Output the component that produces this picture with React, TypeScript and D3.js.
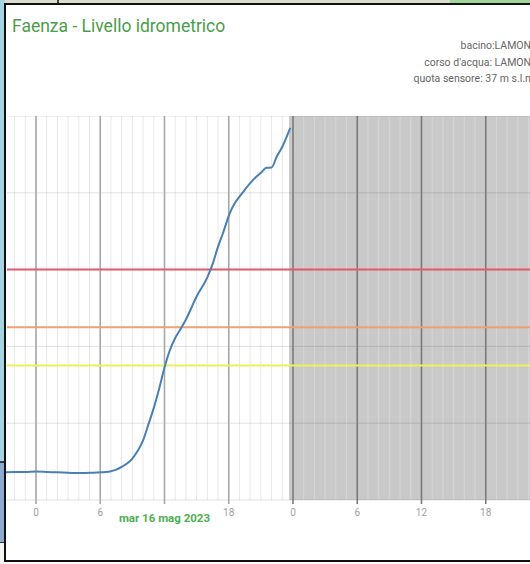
import React from "react";
import * as d3 from "d3";

// ---- data ----
const times: string[] = [
  "2023-05-15T21:00", "2023-05-15T22:00", "2023-05-15T23:00", "2023-05-16T00:00",
  "2023-05-16T01:00", "2023-05-16T02:00", "2023-05-16T03:00", "2023-05-16T04:00",
  "2023-05-16T05:00", "2023-05-16T06:00", "2023-05-16T06:30", "2023-05-16T07:00",
  "2023-05-16T07:30", "2023-05-16T08:00", "2023-05-16T08:30", "2023-05-16T09:00",
  "2023-05-16T09:30", "2023-05-16T10:00", "2023-05-16T10:30", "2023-05-16T11:00",
  "2023-05-16T11:30", "2023-05-16T12:00", "2023-05-16T12:30", "2023-05-16T13:00",
  "2023-05-16T13:30", "2023-05-16T14:00", "2023-05-16T15:00", "2023-05-16T16:00",
  "2023-05-16T16:30", "2023-05-16T17:00", "2023-05-16T17:30", "2023-05-16T18:00",
  "2023-05-16T18:30", "2023-05-16T19:00", "2023-05-16T19:30", "2023-05-16T20:00",
  "2023-05-16T20:30", "2023-05-16T21:00", "2023-05-16T21:30", "2023-05-16T22:00",
  "2023-05-16T22:30", "2023-05-16T23:00", "2023-05-16T23:30", "2023-05-16T23:45",
];
const levels: number[] = [
  0.72, 0.73, 0.73, 0.74,
  0.73, 0.72, 0.71, 0.70,
  0.71, 0.72, 0.73, 0.75,
  0.79, 0.86, 0.95, 1.08,
  1.28, 1.55, 1.97, 2.40,
  2.90, 3.45, 3.90, 4.22,
  4.45, 4.70, 5.30, 5.80,
  6.15, 6.60, 6.98, 7.40,
  7.70, 7.90, 8.08, 8.25,
  8.40, 8.52, 8.65, 8.66,
  8.95, 9.20, 9.52, 9.69,
];
const thresholdValues: number[] = [6.0, 4.5, 3.5];
const yTicks: number[] = [0, 2, 4, 6, 8, 10];
const xDomain: string[] = ["2023-05-15T21:17:30", "2023-05-17T22:08:00"];
const nowTime = "2023-05-16T23:38";
const title = "Faenza - Livello idrometrico";
const infoLines: string[] = ["bacino:LAMONE", "corso d'acqua: LAMONE", "quota sensore: 37 m s.l.m."];
const dateLabel = "mar 16 mag 2023";

// ---- styles ----
const thresholdColors = ["#e25a6a", "#f0a070", "#eeee5e"];
const FONT = "Roboto, 'Noto Sans', sans-serif";

export default function App() {
  const W = 530, H = 564;
  const left = 7, right = 530, top = 116, bottom = 500;
  const parse = (s: string) => new Date(s);
  const x = d3.scaleTime().domain(xDomain.map(parse)).range([left, right]);
  const y = d3.scaleLinear().domain([0, 10]).range([bottom, top]);

  const data = times.map((t, i) => ({ t: parse(t), v: levels[i] }));
  const line = d3
    .line<{ t: Date; v: number }>()
    .x((d) => x(d.t))
    .y((d) => y(d.v))
    .curve(d3.curveMonotoneX);

  const majors = x.ticks(d3.timeHour.every(6) as any);
  const minors = x.ticks(d3.timeHour.every(1) as any);
  const nowX = x(parse(nowTime));

  return (
    <svg
      width={W}
      height={H}
      style={{ position: "absolute", left: 0, top: 0, fontFamily: FONT }}
    >
      {/* background map fragments */}
      <rect x={0} y={0} width={W} height={H} fill="#ffffff" />
      <rect x={0} y={0} width={W} height={5} fill="#d9ddd0" />
      <rect x={450} y={0} width={80} height={4} fill="#9fd49a" />
      <rect x={0} y={0} width={5} height={462} fill="#a8d4e2" />
      <rect x={0} y={462} width={5} height={81} fill="#8ea8cf" />
      <line x1={0} x2={5} y1={462} y2={462} stroke="#111" strokeWidth={1.5} />
      <line x1={0} x2={5} y1={543} y2={543} stroke="#111" strokeWidth={1.5} />
      <rect x={0} y={543} width={5} height={21} fill="#f4f4f0" />
      <line x1={58} x2={58} y1={0} y2={4} stroke="#111" strokeWidth={1.5} />

      {/* panel */}
      <rect x={5} y={4} width={540} height={557} fill="#fff" stroke="#111" strokeWidth={2} />

      <text x={12} y={32} fill="#4a9e4a" fontSize={17.5} fontWeight={400}>
        {title}
      </text>
      {infoLines.map((s, i) => (
        <text key={s} x={537} y={49 + i * 16.5} fill="#666" fontSize={10.5} textAnchor="end">
          {s}
        </text>
      ))}

      <g>
        <clipPath id="plotclip">
          <rect x={6} y={top} width={W} height={bottom - top + 10} />
        </clipPath>
        <g clipPath="url(#plotclip)">
          {/* future shading */}
          <rect x={nowX} y={top} width={right - nowX + 20} height={bottom - top} fill="#c9c9c9" />
          {/* minor vertical grid */}
          {minors.map((d, i) => (
            <line
              key={"m" + i}
              x1={x(d)}
              x2={x(d)}
              y1={top}
              y2={bottom}
              stroke={x(d) > nowX ? "#d6d6d6" : "#e8e8e8"}
              strokeWidth={1}
            />
          ))}
          {/* horizontal grid */}
          {yTicks.map((v) => (
            <line
              key={"h" + v}
              x1={left}
              x2={right + 10}
              y1={y(v)}
              y2={y(v)}
              stroke="rgba(0,0,0,0.12)"
              strokeWidth={1}
            />
          ))}
          {/* major vertical grid */}
          {majors.map((d, i) => (
            <line
              key={"M" + i}
              x1={x(d)}
              x2={x(d)}
              y1={top}
              y2={bottom + 4}
              stroke={x(d) > nowX ? "#7a7a7a" : "#a8a8a8"}
              strokeWidth={1.6}
            />
          ))}
          {/* thresholds */}
          {thresholdValues.map((v, i) => (
            <line
              key={"t" + v}
              x1={left}
              x2={right + 10}
              y1={y(v)}
              y2={y(v)}
              stroke={thresholdColors[i]}
              strokeWidth={2}
            />
          ))}
          {/* series */}
          <path d={line(data) || ""} fill="none" stroke="#4a7fb3" strokeWidth={2} />
        </g>
      </g>

      {/* x axis labels */}
      {majors.map((d, i) => {
        const h = d.getHours();
        const isDateTick = h === 12 && d.getDate() === 16;
        if (isDateTick) return null;
        return (
          <text
            key={"l" + i}
            x={x(d)}
            y={516}
            fill="#a0a0a0"
            fontSize={10}
            textAnchor="middle"
          >
            {String(h)}
          </text>
        );
      })}
      <text
        x={x(parse("2023-05-16T12:00"))}
        y={522}
        fill="#4caf50"
        fontSize={11.5}
        fontWeight={700}
        textAnchor="middle"
      >
        {dateLabel}
      </text>
    </svg>
  );
}
